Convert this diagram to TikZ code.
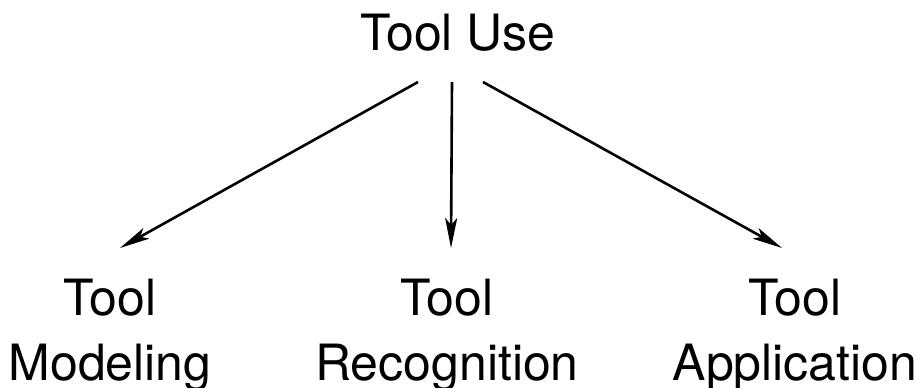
\documentclass[tikz,border=0pt]{standalone}
\usepackage{fontspec}
\setmainfont{TeX Gyre Heros}
\usetikzlibrary{arrows.meta,calc}
\begin{document}
\begin{tikzpicture}[x=1pt,y=-1pt,
  lbl/.style={inner sep=0pt, outer sep=0pt, align=center,
              font=\fontsize{50}{65}\selectfont},
  arr/.style={line width=2.6pt,
              -{Stealth[length=30pt,width=12pt,inset=7pt]}}]
  \useasboundingbox (0,0) rectangle (918,388);

  % root and the three branches
  \node[lbl, anchor=base] (use) at (458,50) {Tool Use};
  \node[lbl, anchor=north] (mod) at (110,279) {Tool\\Modeling};
  \node[lbl, anchor=north] (rec) at (447,279) {Tool\\Recognition};
  \node[lbl, anchor=north] (app) at (795,279) {Tool\\Application};

  % connector end points
  \coordinate (s1) at ($(use.base)+(-40,32)$);
  \coordinate (s2) at ($(use.base)+(-6,32)$);
  \coordinate (s3) at ($(use.base)+(25,32)$);
  \coordinate (t1) at ($(mod.north)+(10,-31)$);
  \coordinate (t2) at ($(rec.north)+(4,-31)$);
  \coordinate (t3) at ($(app.north)+(-13,-31)$);

  \draw[arr] (s1) -- (t1);
  \draw[arr] (s2) -- (t2);
  \draw[arr] (s3) -- (t3);
\end{tikzpicture}
\end{document}
